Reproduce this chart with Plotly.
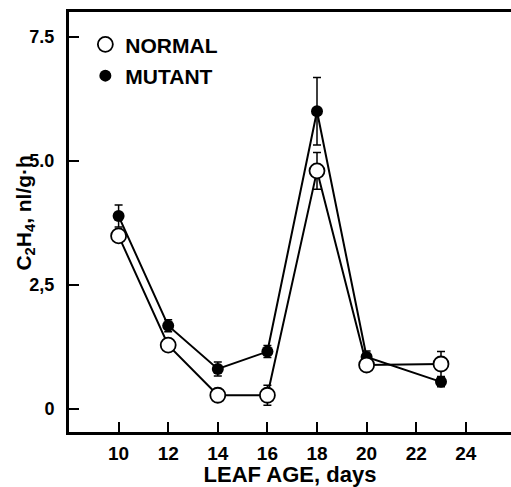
import plotly.graph_objects as go

days = [10, 12, 14, 16, 18, 20, 23]
normal = [3.49, 1.29, 0.28, 0.28, 4.80, 0.89, 0.91]
normal_err = [0.12, 0.12, 0.08, 0.20, 0.37, 0.12, 0.25]
mutant = [3.89, 1.68, 0.81, 1.16, 6.00, 1.05, 0.55]
mutant_err = [0.22, 0.12, 0.14, 0.12, 0.68, 0.12, 0.10]

x_ticks = [10, 12, 14, 16, 18, 20, 22, 24]
y_ticks = [0, 2.5, 5.0, 7.5]
y_ticktext = ["0", "2,5", "5.0", "7.5"]

FONT = "Liberation Sans"

fig = go.Figure()

fig.add_trace(go.Scatter(
    x=days, y=mutant, mode="lines+markers", showlegend=False,
    line=dict(color="black", width=2),
    marker=dict(symbol="circle", size=12, color="black"),
    error_y=dict(type="data", array=mutant_err, color="black", thickness=1.5, width=4),
))
fig.add_trace(go.Scatter(
    x=days, y=normal, mode="lines+markers", showlegend=False,
    line=dict(color="black", width=2),
    marker=dict(symbol="circle", size=15, color="white", line=dict(color="black", width=1.8)),
    error_y=dict(type="data", array=normal_err, color="black", thickness=1.5, width=4),
))

# legend-only entries
fig.add_trace(go.Scatter(
    x=[None], y=[None], mode="markers", name="NORMAL", legendgroup="a",
    marker=dict(symbol="circle", size=15, color="white", line=dict(color="black", width=1.8)),
))
fig.add_trace(go.Scatter(
    x=[None], y=[None], mode="markers", name="MUTANT", legendgroup="b",
    marker=dict(symbol="circle", size=12, color="black"),
))

fig.update_layout(
    width=511, height=487,
    margin=dict(l=69, r=0, t=12, b=55),
    paper_bgcolor="white", plot_bgcolor="white",
    font=dict(family=FONT, color="black", weight="bold"),
    hovermode=False,
    legend=dict(
        x=0.037, y=0.971, xanchor="left", yanchor="top",
        bgcolor="rgba(0,0,0,0)", font=dict(size=21, family=FONT, weight="bold"),
        tracegroupgap=1, itemwidth=30,
    ),
    xaxis=dict(
        range=[8, 8 + 442 / 24.8], automargin=False,
        tickvals=x_ticks, ticks="inside", ticklen=10, tickwidth=2, tickcolor="black",
        showline=True, linewidth=3, linecolor="black", mirror=True,
        showgrid=False, zeroline=False,
        tickfont=dict(size=19, family=FONT, weight="bold"),
        ticklabelstandoff=2,
        title=dict(text="LEAF AGE, days", font=dict(size=22, family=FONT, weight="bold"), standoff=5),
    ),
    yaxis=dict(
        range=[-0.46, 8.0], automargin=False,
        tickvals=y_ticks, ticktext=y_ticktext, ticks="inside", ticklen=10, tickwidth=2, tickcolor="black",
        showline=True, linewidth=3, linecolor="black", mirror=False,
        showgrid=False, zeroline=False,
        tickfont=dict(size=18, family=FONT, weight="bold"),
        ticklabelstandoff=8,
    ),
    annotations=[dict(
        text="C<sub>2</sub>H<sub>4</sub>, nl/g·h", textangle=-90, showarrow=False,
        xref="paper", yref="paper", x=-0.1, y=0.522, xanchor="center", yanchor="middle",
        font=dict(size=21, family=FONT, weight="bold", color="black"),
    )],
)

fig.write_html("out.html", config={"displayModeBar": False},
               post_script="document.body.style.margin='0';")
